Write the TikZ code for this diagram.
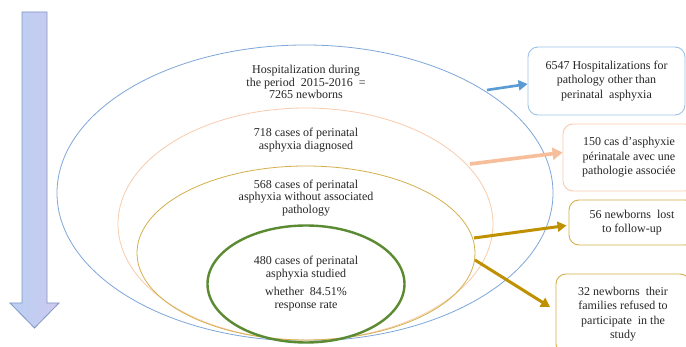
\documentclass[tikz,border=0pt]{standalone}
\usepackage{fontspec}
\setmainfont{Liberation Serif}
\usetikzlibrary{arrows.meta,shapes.geometric}
\definecolor{blueE}{HTML}{7EA6D8}
\definecolor{peachE}{HTML}{F8CBAD}
\definecolor{goldE}{HTML}{D4B04C}
\definecolor{greenE}{HTML}{5A8A32}
\definecolor{blueA}{HTML}{5B9BD5}
\definecolor{peachA}{HTML}{F6BE9A}
\definecolor{goldA}{HTML}{BF9000}
\definecolor{boxB}{HTML}{9DC3E6}
\definecolor{txt}{HTML}{262626}
\definecolor{arrF}{HTML}{BACFF2}
\definecolor{arrL}{HTML}{CFC9F0}
\definecolor{arrD}{HTML}{7F97C4}
\tikzset{
  txtnode/.style={align=center,inner sep=0pt,text=txt,font=\fontsize{12}{12.5}\selectfont},
  boxnode/.style={draw,rounded corners=10pt,line width=0.9pt,align=center,text=txt,font=\fontsize{12}{14.5}\selectfont,inner sep=0pt},
  ell/.style={ellipse,inner sep=0pt,draw},
  fatarrow/.style={line width=3pt,-{Triangle[length=9pt,width=10pt]}}
}
\begin{document}
\begin{tikzpicture}[x=1pt,y=-1pt]
\clip (0,0) rectangle (686,347);
\fill[white] (0,0) rectangle (686,347);
% big downward arrow
\path[draw=arrD,line width=0.8pt,left color=arrF,right color=arrL,middle color=arrF!60!arrL]
  (22,12) -- (47,12) -- (47,303) -- (59,303) -- (34.5,328) -- (10,303) -- (22,303) -- cycle;
% ellipses
\node[ell,draw=blueE,line width=0.8pt,minimum width=496pt,minimum height=296pt] (e1) at (305,193) {};
\node[ell,draw=peachE,line width=0.8pt,minimum width=375pt,minimum height=232pt] (e2) at (305.5,224) {};
\node[ell,draw=goldE,line width=0.8pt,minimum width=338pt,minimum height=174pt] (e3) at (306,253) {};
\node[ell,draw=greenE,line width=2.4pt,minimum width=197pt,minimum height=117pt] (e4) at (306,284) {};
% ellipse texts
\node[txtnode] (t1) at (306,82) {Hospitalization during\\the period\ \ 2015-2016\ \ =\\7265 newborns};
\node[txtnode] (t2) at (306,140) {718 cases of perinatal\\asphyxia diagnosed};
\node[txtnode] (t3) at (306,198) {568 cases of perinatal\\asphyxia without associated\\pathology};
\node[txtnode] (t4) at (306,268) {480 cases of perinatal\\asphyxia studied};
\node[txtnode] (t5) at (306,299) {whether\ \ 84.51\%\\response rate};
% boxes
\node[boxnode,draw=boxB,minimum width=157pt,minimum height=68pt] (b1) at (606.5,81) {6547 Hospitalizations for\\pathology other than\\perinatal\ \ asphyxia};
\node[boxnode,draw=peachE,minimum width=132pt,minimum height=67pt] (b2) at (629,157.5) {150 cas d’asphyxie\\périnatale avec une\\pathologie associée};
\node[boxnode,draw=goldE,minimum width=126pt,minimum height=45pt] (b3) at (632,222.5) {56 newborns\ \ lost\\to follow-up};
\node[boxnode,draw=goldE,minimum width=134pt,minimum height=80pt] (b4) at (623,314) {32 newborns\ \ their\\families refused to\\participate\ \ in the\\study};
% arrow start points on ellipses
\coordinate (s1) at (487,90);
\coordinate (s2) at (470,164);
\coordinate (s3) at (474,238);
\coordinate (s4) at (475,260);
\coordinate (tip4) at (550,307);
\draw[fatarrow,draw=blueA,line width=2.6pt] (s1) -- ([yshift=-3pt]b1.west);
\draw[fatarrow,draw=peachA,line width=3.6pt,-{Triangle[length=10pt,width=12pt]}] (s2) -- ([yshift=5pt]b2.west);
\draw[fatarrow,draw=goldA] (s3) -- ([xshift=-2pt,yshift=-3pt]b3.west);
\draw[fatarrow,draw=goldA] (s4) -- (tip4);
\end{tikzpicture}
\end{document}
